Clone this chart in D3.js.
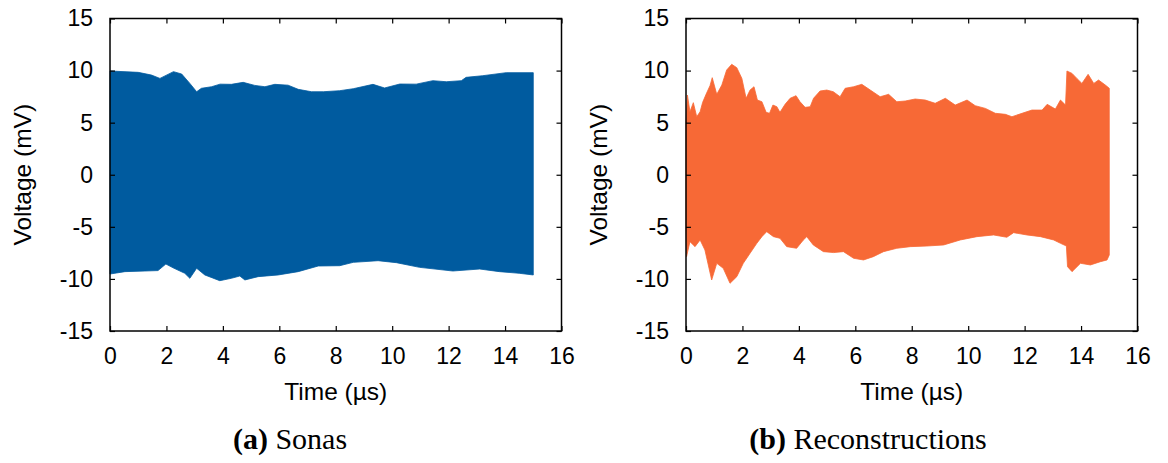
<!DOCTYPE html>
<html>
<head>
<meta charset="utf-8">
<script src="https://cdn.jsdelivr.net/npm/d3@7"></script>
<style>
  body { margin: 0; background: #fff; }
  .tick text { font-family: "Liberation Sans", Arial, sans-serif; font-size: 23px; fill: #000; }
  .axisText { font-family: "Liberation Sans", Arial, sans-serif; font-size: 24.5px; fill: #000; }
  .caption { font-family: "Liberation Serif", "DejaVu Serif", serif; font-size: 30px; fill: #000; }
</style>
</head>
<body>
<div id="chart"></div>
<script>
// tick labels
const xTicks = [0, 2, 4, 6, 8, 10, 12, 14, 16]
const yTicks = [-15, -10, -5, 0, 5, 10, 15]

// (a) Sonas - envelope of the signal
const sonasUpperT = [0, 1.0, 1.47, 1.77, 2.25, 2.54, 2.83, 3.07, 3.24, 3.6, 3.9, 4.3, 4.72, 5.13, 5.49, 5.84, 6.31, 6.67, 7.14, 7.56, 8.14, 8.62, 9.32, 9.73, 10.27, 10.85, 11.44, 11.92, 12.45, 12.62, 13.21, 14.04, 15.0]
const sonasUpperV = [9.96, 9.83, 9.57, 9.25, 9.9, 9.67, 8.77, 7.97, 8.3, 8.45, 8.7, 8.68, 8.87, 8.58, 8.45, 8.68, 8.6, 8.2, 7.97, 7.97, 8.07, 8.26, 8.68, 8.33, 8.71, 8.7, 9.03, 8.93, 9.03, 9.35, 9.51, 9.8, 9.8]
const sonasLowerT = [0, 0.53, 1.24, 1.7, 1.98, 2.27, 2.65, 2.83, 3.07, 3.36, 3.89, 4.3, 4.6, 4.78, 5.25, 5.96, 6.67, 7.38, 8.14, 8.62, 9.5, 10.15, 10.97, 12.15, 13.1, 13.8, 14.5, 15.0]
const sonasLowerV = [-9.53, -9.3, -9.24, -9.2, -8.57, -8.98, -9.46, -9.94, -8.98, -9.62, -10.17, -9.94, -9.72, -10.1, -9.78, -9.62, -9.3, -8.76, -8.73, -8.41, -8.25, -8.44, -8.89, -9.24, -9.05, -9.3, -9.46, -9.62]

// (b) Reconstructions - envelope
const reconUpperT = [0, 0.05, 0.14, 0.26, 0.38, 0.5, 0.59, 0.71, 0.85, 0.93, 1.09, 1.27, 1.44, 1.62, 1.8, 1.98, 2.13, 2.27, 2.41, 2.53, 2.69, 2.84, 2.96, 3.08, 3.22, 3.33, 3.51, 3.69, 3.9, 4.04, 4.22, 4.4, 4.52, 4.75, 4.99, 5.22, 5.46, 5.64, 5.94, 6.23, 6.53, 6.88, 7.18, 7.47, 7.77, 8.12, 8.48, 8.83, 9.19, 9.54, 9.96, 10.25, 10.61, 10.96, 11.32, 11.55, 11.91, 12.26, 12.62, 12.8, 13.09, 13.27, 13.45, 13.5, 13.68, 13.85, 14.03, 14.25, 14.45, 14.62, 14.86, 15.0]
const reconUpperV = [5.0, 7.65, 6.05, 6.92, 5.57, 6.05, 6.95, 7.72, 8.55, 9.32, 7.72, 8.61, 10.05, 10.6, 10.28, 9.25, 7.34, 8.13, 8.45, 7.17, 7.01, 5.99, 5.9, 6.69, 6.53, 5.99, 6.76, 7.34, 7.59, 7.01, 6.47, 6.53, 7.34, 8.04, 8.13, 7.97, 7.49, 8.3, 8.45, 8.68, 8.13, 7.49, 7.72, 7.01, 7.08, 7.27, 7.17, 6.86, 7.34, 6.69, 7.17, 6.63, 6.37, 5.9, 5.8, 5.57, 5.9, 6.21, 6.21, 6.76, 6.31, 7.17, 6.69, 9.96, 9.73, 9.25, 8.77, 9.64, 8.77, 9.09, 8.61, 8.3]
const reconLowerT = [0, 0.02, 0.14, 0.32, 0.5, 0.67, 0.91, 1.09, 1.32, 1.56, 1.8, 2.03, 2.27, 2.51, 2.69, 2.86, 3.1, 3.33, 3.57, 3.92, 4.16, 4.28, 4.51, 4.87, 5.23, 5.58, 5.94, 6.29, 6.64, 7.0, 7.47, 7.95, 8.54, 9.13, 9.72, 10.31, 10.9, 11.37, 11.61, 12.08, 12.56, 13.03, 13.27, 13.48, 13.52, 13.68, 13.98, 14.33, 14.69, 14.92, 15.0]
const reconLowerV = [-5.0, -7.86, -6.42, -6.9, -6.26, -7.22, -10.1, -8.5, -8.98, -10.42, -9.78, -8.5, -7.54, -6.58, -5.94, -5.46, -5.94, -6.1, -6.9, -7.06, -6.26, -5.94, -6.74, -7.38, -7.47, -7.38, -8.02, -8.18, -7.86, -7.38, -7.06, -6.9, -6.84, -6.74, -6.26, -5.94, -5.78, -6.0, -5.56, -5.78, -5.94, -6.26, -6.58, -6.84, -8.82, -9.3, -8.5, -8.66, -8.34, -8.18, -7.7]

const panels = [
  {left: 110, label: "(a)", name: " Sonas", color: "#005b9f", capX: 290,
   upT: sonasUpperT, upV: sonasUpperV, loT: sonasLowerT, loV: sonasLowerV},
  {left: 686, label: "(b)", name: " Reconstructions", color: "#f76936", capX: 868,
   upT: reconUpperT, upV: reconUpperV, loT: reconLowerT, loV: reconLowerV}
]

const svgWidth = 1168
const svgHeight = 463
const plotTop = 18.5
const plotH = 312.5
const plotW = 451.5

const svg = d3.select("#chart")
  .append("svg")
  .attr("width", svgWidth)
  .attr("height", svgHeight)

panels.forEach(function(p) {
  const g = svg.append("g")
    .attr("transform", `translate(${p.left}, ${plotTop})`)

  const xScale = d3.scaleLinear().domain([0, 16]).range([0, plotW])
  const yScale = d3.scaleLinear().domain([-15, 15]).range([plotH, 0])

  // envelope polygon: upper edge left->right, lower edge right->left
  const pts = p.upT.map((t, i) => [t, p.upV[i]])
  for (let i = p.loT.length - 1; i >= 0; i--) pts.push([p.loT[i], p.loV[i]])
  const line = d3.line().x(d => xScale(d[0])).y(d => yScale(d[1]))
  g.append("path")
    .attr("d", line(pts) + "Z")
    .attr("fill", p.color)
    .attr("stroke", p.color)
    .attr("stroke-width", 0.8)

  // axes with inward ticks, mirrored on top/right
  g.append("g")
    .attr("transform", `translate(0, ${plotH})`)
    .call(d3.axisBottom(xScale).tickValues(xTicks).tickSize(-5).tickPadding(17).tickFormat(d3.format("d")))
  g.append("g")
    .call(d3.axisLeft(yScale).tickValues(yTicks).tickSize(-5).tickPadding(17).tickFormat(d => d < 0 ? "-" + Math.abs(d) : d))
  g.append("g")
    .call(d3.axisTop(xScale).tickValues(xTicks).tickSize(-5).tickFormat(""))
  g.append("g")
    .attr("transform", `translate(${plotW}, 0)`)
    .call(d3.axisRight(yScale).tickValues(yTicks).tickSize(-5).tickFormat(""))
  g.selectAll(".domain").remove()
  g.selectAll(".tick line").attr("stroke", "#000").attr("stroke-width", 1.2)

  g.append("rect")
    .attr("width", plotW)
    .attr("height", plotH)
    .attr("fill", "none")
    .attr("stroke", "#000")
    .attr("stroke-width", 1.5)

  // axis labels
  g.append("text")
    .attr("class", "axisText")
    .attr("transform", `translate(-79, ${plotH / 2}) rotate(-90)`)
    .style("text-anchor", "middle")
    .text("Voltage (mV)")
  g.append("text")
    .attr("class", "axisText")
    .attr("x", plotW / 2)
    .attr("y", plotH + 69)
    .style("text-anchor", "middle")
    .text("Time (µs)")

  // caption
  const cap = svg.append("text")
    .attr("class", "caption")
    .attr("x", p.capX)
    .attr("y", 449)
    .style("text-anchor", "middle")
  cap.append("tspan").attr("font-weight", "bold").text(p.label)
  cap.append("tspan").text(p.name)
})
</script>
</body>
</html>
